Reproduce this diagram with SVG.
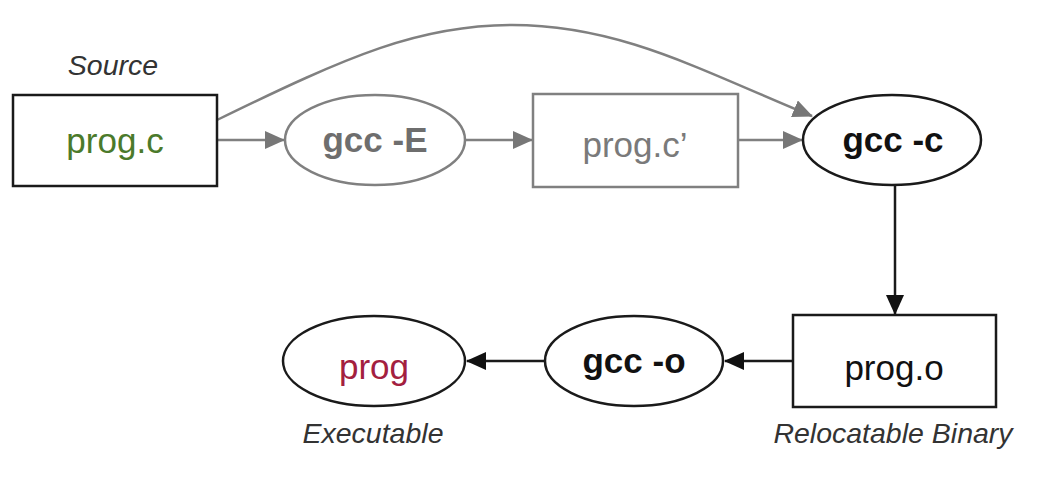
<svg xmlns="http://www.w3.org/2000/svg" width="1052" height="484" viewBox="0 0 1052 484">
  <style>
    .lbl { font-family: "Liberation Sans", Arial, sans-serif; font-size: 35px; text-anchor: middle; }
    .b { font-weight: bold; }
    .cap { font-family: "Liberation Sans", Arial, sans-serif; font-size: 28.5px; font-style: italic; fill: #333; text-anchor: middle; }
    .gs { fill: #fff; stroke: #808080; stroke-width: 2.5; }
    .ks { fill: #fff; stroke: #1a1a1a; stroke-width: 2.5; }
    .ge { fill: none; stroke: #808080; stroke-width: 2.5; }
    .ke { fill: none; stroke: #1a1a1a; stroke-width: 2.5; }
  </style>
  <defs>
    <marker id="ag" markerWidth="20" markerHeight="18" refX="19" refY="9" orient="auto" markerUnits="userSpaceOnUse">
      <path d="M0,0 L20,9 L0,18 Z" fill="#777"/>
    </marker>
    <marker id="ak" markerWidth="20" markerHeight="18" refX="19" refY="9" orient="auto" markerUnits="userSpaceOnUse">
      <path d="M0,0 L20,9 L0,18 Z" fill="#111"/>
    </marker>
  </defs>
  <rect width="1052" height="484" fill="#fff"/>

  <g id="connectors">
    <path class="ge" d="M217,120 C350,55 420,25 512,25 C620,25 700,70 812,116" marker-end="url(#ag)"/>
    <line class="ge" x1="217" y1="140" x2="284" y2="140" marker-end="url(#ag)"/>
    <line class="ge" x1="465" y1="140" x2="532" y2="140" marker-end="url(#ag)"/>
    <line class="ge" x1="738" y1="140" x2="802" y2="140" marker-end="url(#ag)"/>
    <line class="ke" x1="895" y1="186" x2="895" y2="314" marker-end="url(#ak)"/>
    <line class="ke" x1="793" y1="361" x2="725" y2="361" marker-end="url(#ak)"/>
    <line class="ke" x1="545" y1="361" x2="467" y2="361" marker-end="url(#ak)"/>
  </g>

  <g id="source-label">
    <text class="cap" x="113" y="75">Source</text>
  </g>
  <g id="prog-c">
    <rect class="ks" x="13" y="95" width="204" height="91"/>
    <text class="lbl" x="115" y="153" fill="#4b7a2b">prog.c</text>
  </g>
  <g id="gcc-E">
    <ellipse class="gs" cx="375" cy="140" rx="90" ry="45"/>
    <text class="lbl b" x="375" y="152" fill="#6e6e6e">gcc -E</text>
  </g>
  <g id="prog-c-prime">
    <rect class="gs" x="533" y="94" width="205" height="93"/>
    <text class="lbl" x="635" y="157" fill="#7a7a7a">prog.c’</text>
  </g>
  <g id="gcc-c">
    <ellipse class="ks" cx="892" cy="140" rx="89" ry="45"/>
    <text class="lbl b" x="893" y="152" fill="#111">gcc -c</text>
  </g>
  <g id="prog-o">
    <rect class="ks" x="793" y="315" width="203" height="92"/>
    <text class="lbl" x="894" y="380" fill="#111">prog.o</text>
    <text class="cap" x="893" y="443">Relocatable Binary</text>
  </g>
  <g id="gcc-o">
    <ellipse class="ks" cx="634" cy="361" rx="89" ry="45"/>
    <text class="lbl b" x="634" y="373" fill="#111">gcc -o</text>
  </g>
  <g id="prog">
    <ellipse class="ks" cx="374" cy="361" rx="91" ry="45"/>
    <text class="lbl" x="374" y="379" fill="#a3203f">prog</text>
    <text class="cap" x="373" y="443">Executable</text>
  </g>
</svg>
